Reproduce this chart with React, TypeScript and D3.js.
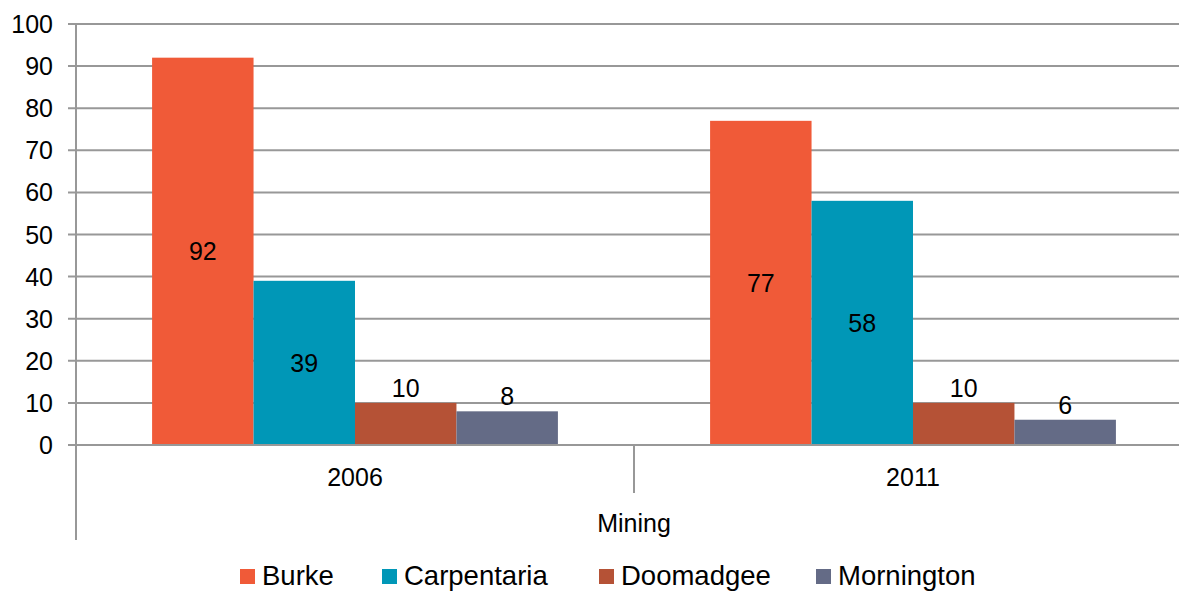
import React from "react"
import * as d3 from "d3"

const years = ["2006", "2011"]
const regions = ["Burke", "Carpentaria", "Doomadgee", "Mornington"]
const values2006 = [92, 39, 10, 8]
const values2011 = [77, 58, 10, 6]
const yTicks = [0, 10, 20, 30, 40, 50, 60, 70, 80, 90, 100]
const colours = ["#F05A38", "#0097B7", "#B55236", "#646B86"]

const W = 1179
const H = 592
const left = 76
const top = 24
const bottom = 445
const plotRight = 1192

export default function App() {
  const series = [values2006, values2011]

  const x0 = d3.scaleBand().domain(years).range([left, plotRight])
  const x1 = d3
    .scaleBand()
    .domain(regions)
    .range([0, x0.bandwidth()])
    .paddingOuter(0.75)
  const y = d3.scaleLinear().domain([0, 100]).range([bottom, top])

  const font = "'Liberation Sans', Arial, sans-serif"
  const fs = 25

  const legendX = [240, 382, 599, 816]

  return (
    <svg width={W} height={H} style={{ display: "block", position: "absolute", left: 0, top: 0 }} fontFamily={font}>
      <rect width={W} height={H} fill="#fff" />
      {/* gridlines + ticks */}
      {yTicks.map(t => (
        <g key={t}>
          <line x1={68} x2={plotRight} y1={y(t)} y2={y(t)} stroke="#989898" strokeWidth={2} />
          <text x={53} y={y(t)} dy="0.36em" textAnchor="end" fontSize={fs} fill="#000">{t}</text>
        </g>
      ))}

      {/* bars */}
      {years.map((yr, gi) => (
        <g key={yr} transform={`translate(${x0(yr)},0)`}>
          {regions.map((r, i) => {
            const v = series[gi][i]
            const bx = x1(r)!
            const bw = x1.bandwidth()
            const inside = v > 20
            return (
              <g key={r}>
                <rect x={bx} y={y(v)} width={bw} height={bottom - y(v)} fill={colours[i]} />
                <text
                  x={bx + bw / 2}
                  y={inside ? (y(v) + bottom) / 2 : y(v) - 15}
                  dy="0.36em"
                  textAnchor="middle"
                  fontSize={fs}
                  fill="#000"
                >{v}</text>
              </g>
            )
          })}
        </g>
      ))}

      {/* baseline redraw */}
      <line x1={68} x2={plotRight} y1={bottom} y2={bottom} stroke="#989898" strokeWidth={2} />

      {/* axes */}
      <line x1={left} x2={left} y1={top} y2={540} stroke="#989898" strokeWidth={2} />
      <line x1={x0("2011")!} x2={x0("2011")!} y1={bottom} y2={493} stroke="#989898" strokeWidth={2} />

      {years.map(yr => (
        <text key={yr} x={x0(yr)! + x0.bandwidth() / 2} y={476.5} dy="0.36em" textAnchor="middle" fontSize={fs} fill="#000">{yr}</text>
      ))}
      <text x={x0("2011")!} y={522.5} dy="0.36em" textAnchor="middle" fontSize={fs} fill="#000">Mining</text>

      {/* legend */}
      {regions.map((r, i) => {
        const lx = legendX[i]
        return (
          <g key={r}>
            <rect x={lx} y={569} width={15} height={15} fill={colours[i]} />
            <text x={lx + 22} y={575} dy="0.36em" fontSize={27.5} fill="#000">{r}</text>
          </g>
        )
      })}
    </svg>
  )
}
